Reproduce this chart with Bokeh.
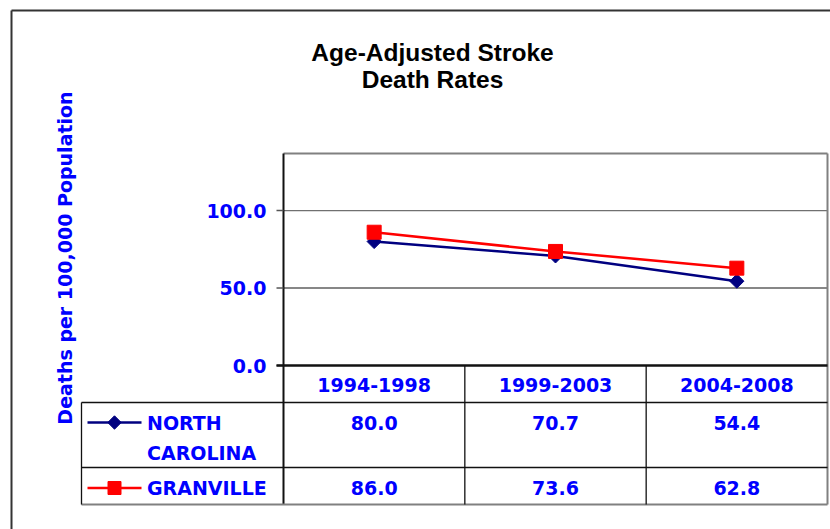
import numpy as np
from bokeh.plotting import figure
from bokeh.models import Range1d
from bokeh.core.properties import value
from bokeh.embed import file_html
from bokeh.resources import INLINE

# ---------------- data ----------------
title_lines = ["Age-Adjusted Stroke", "Death Rates"]
y_axis_title = "Deaths per 100,000 Population"
categories = ["1994-1998", "1999-2003", "2004-2008"]
series_labels = [["NORTH", "CAROLINA"], ["GRANVILLE"]]
nc_values = [80.0, 70.7, 54.4]
granville_values = [86.0, 73.6, 62.8]
y_ticks = [0.0, 50.0, 100.0]
y_max = 136.8

# ---------------- layout (page pixels) ----------------
W, H = 830, 529
PX0, PY0 = 0, 0
plot_l, plot_r, plot_t, plot_b = 283, 827, 153, 365
n = len(categories)
colw = (plot_r - plot_l) / n
ppu = (plot_b - plot_t) / y_max

x_range = Range1d((PX0 - plot_l) / colw, (PX0 + W - plot_l) / colw)
y_range = Range1d((plot_b - (PY0 + H)) / ppu, (plot_b - PY0) / ppu)

p = figure(width=W, height=H, x_range=x_range, y_range=y_range,
           min_border=0, toolbar_location=None, output_backend="svg",
           x_axis_location=None, y_axis_location=None,
           outline_line_color=None, background_fill_color="white",
           border_fill_color="white")
p.grid.grid_line_color = None
p.extra_x_ranges = {"px": Range1d(PX0, PX0 + W)}
p.extra_y_ranges = {"px": Range1d(PY0 + H, PY0)}

BLUE = "#0000ff"
FONT = value("DejaVu Sans")
FS = "19px"

xc = [i + 0.5 for i in range(n)]

# outer chart border (left / top)
p.segment(x0=[11, 11], y0=[10, 10], x1=[11, 840], y1=[540, 10],
          x_range_name="px", y_range_name="px", line_color="#333333", line_width=2)

# title
for k, t in enumerate(title_lines):
    p.text(x=[432], y=[52 + 27 * k], text=[t], x_range_name="px", y_range_name="px",
           text_font=value("Liberation Sans"), text_font_style="bold",
           text_font_size="24.5px", text_color="black",
           text_align="center", text_baseline="middle")

# y axis title
p.text(x=[64], y=[257.5], text=[y_axis_title], x_range_name="px", y_range_name="px",
       angle=np.pi / 2, text_font=FONT, text_font_style="bold", text_font_size=FS,
       text_color=BLUE, text_align="center", text_baseline="middle")

# gridlines
grid_vals = [v for v in y_ticks if v > 0]
p.segment(x0=[0] * len(grid_vals), x1=[n] * len(grid_vals), y0=grid_vals, y1=grid_vals,
          line_color=["#111111", "#707070"], line_width=1.2)

# plot area border
p.segment(x0=[plot_l, plot_r], y0=[plot_t, plot_t], x1=[plot_r, plot_r], y1=[plot_t, 504],
          x_range_name="px", y_range_name="px", line_color="#808080", line_width=2)
# left axis line
p.segment(x0=[plot_l], y0=[plot_t], x1=[plot_l], y1=[504],
          x_range_name="px", y_range_name="px", line_color="#111111", line_width=2)
# ticks
p.segment(x0=[276] * len(y_ticks), x1=[plot_l] * len(y_ticks), y0=y_ticks, y1=y_ticks,
          x_range_name="px", line_color="#555555", line_width=1.5)
# tick labels
p.text(x=[266] * len(y_ticks), y=y_ticks, text=["%.1f" % v for v in y_ticks],
       x_range_name="px", text_font=FONT, text_font_style="bold",
       text_font_size=FS, text_color=BLUE, text_align="right", text_baseline="middle")

# ---------------- data table ----------------
# horizontal rules
p.segment(x0=[81, 81], y0=[402, 467], x1=[plot_r, plot_r], y1=[402, 467],
          x_range_name="px", y_range_name="px", line_color="#111111", line_width=1.3)
p.segment(x0=[81], y0=[504], x1=[plot_r], y1=[504],
          x_range_name="px", y_range_name="px", line_color="#808080", line_width=2)
# vertical rules
p.segment(x0=[81], y0=[402], x1=[81], y1=[504],
          x_range_name="px", y_range_name="px", line_color="#111111", line_width=1.3)
p.segment(x0=list(range(1, n)), y0=[365] * (n - 1), x1=list(range(1, n)), y1=[504] * (n - 1),
          y_range_name="px", line_color="#111111", line_width=1.3)
# x axis line
p.segment(x0=[276], y0=[0], x1=[plot_r], y1=[0], x_range_name="px",
          line_color="#111111", line_width=2.5)

common = dict(text_font=FONT, text_font_style="bold", text_font_size=FS,
              text_color=BLUE, text_baseline="middle")
# header
p.text(x=xc, y=[384] * n, text=categories, y_range_name="px", text_align="center", **common)
# values
p.text(x=xc, y=[422] * n, text=["%.1f" % v for v in nc_values], y_range_name="px",
       text_align="center", **common)
p.text(x=xc, y=[487] * n, text=["%.1f" % v for v in granville_values], y_range_name="px",
       text_align="center", **common)
# series labels
p.text(x=[146.5, 146.5], y=[422, 452.5], text=series_labels[0],
       x_range_name="px", y_range_name="px", text_align="left", **common)
p.text(x=[146.5], y=[487], text=series_labels[1],
       x_range_name="px", y_range_name="px", text_align="left", **common)

# legend keys
p.segment(x0=[87], y0=[422], x1=[141], y1=[422], x_range_name="px", y_range_name="px",
          line_color="#000080", line_width=2.5)
p.scatter(x=[114], y=[422], marker="square", angle=np.pi / 4, size=9.5,
          x_range_name="px", y_range_name="px", fill_color="#000080", line_color="#000080")
p.segment(x0=[87], y0=[487.5], x1=[141], y1=[487.5], x_range_name="px", y_range_name="px",
          line_color="#ff0000", line_width=2.5)
p.scatter(x=[114], y=[487.5], marker="square", size=13,
          x_range_name="px", y_range_name="px", fill_color="#ff0000", line_color="#ff0000")

# ---------------- series ----------------
p.line(x=xc, y=nc_values, line_color="#000080", line_width=2.5)
p.scatter(x=xc, y=nc_values, marker="square", angle=np.pi / 4, size=10,
          fill_color="#000080", line_color="#000080")
p.line(x=xc, y=granville_values, line_color="#ff0000", line_width=2.5)
p.scatter(x=xc, y=granville_values, marker="square", size=14,
          fill_color="#ff0000", line_color="#ff0000")

open("out.html", "w").write(file_html(p, INLINE))
